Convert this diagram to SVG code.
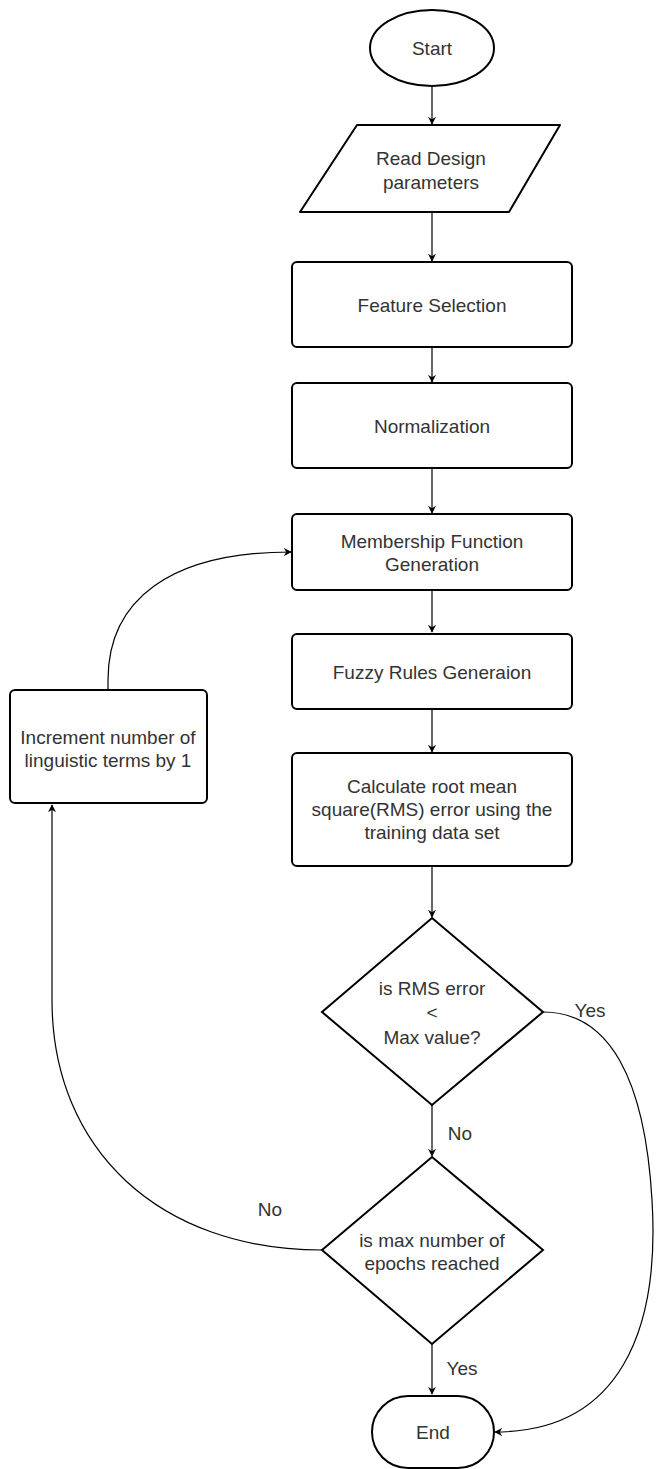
<svg xmlns="http://www.w3.org/2000/svg" width="656" height="1469" viewBox="0 0 656 1469">
<style>
.s{fill:#fff;stroke:#000;stroke-width:2}
.t{font-family:"Liberation Sans",Arial,sans-serif;font-size:19px;fill:#333;text-anchor:middle;dominant-baseline:central}
.c{fill:none;stroke:#000;stroke-width:1.2}
</style>
<defs>
<marker id="a" viewBox="0 0 10 10" refX="9" refY="5" markerWidth="8" markerHeight="8" markerUnits="userSpaceOnUse" orient="auto">
<path d="M0,0 L10,5 L0,10 L3,5 Z" fill="#000"/>
</marker>
</defs>
<g id="connectors">
<path class="c" d="M432,87 V124" marker-end="url(#a)"/>
<path class="c" d="M432,212 V261" marker-end="url(#a)"/>
<path class="c" d="M432,347 V382" marker-end="url(#a)"/>
<path class="c" d="M432,468 V513" marker-end="url(#a)"/>
<path class="c" d="M432,590 V632" marker-end="url(#a)"/>
<path class="c" d="M432,709 V752" marker-end="url(#a)"/>
<path class="c" d="M432,866 V917" marker-end="url(#a)"/>
<path class="c" d="M432,1105 V1156" marker-end="url(#a)"/>
<path class="c" d="M432,1344 V1394" marker-end="url(#a)"/>
<path class="c" d="M108,690 V680 C108,600 170,552 291,552" marker-end="url(#a)"/>
<path class="c" d="M322,1250 C160,1250 52,1150 52,1000 V805" marker-end="url(#a)"/>
<path class="c" d="M543,1012 C610,1012 645,1080 652,1200 C660,1330 620,1432 495,1432" marker-end="url(#a)"/>
<text class="t" x="590" y="1010">Yes</text>
<text class="t" x="460" y="1133">No</text>
<text class="t" x="270" y="1209">No</text>
<text class="t" x="462" y="1368">Yes</text>
</g>
<g id="start">
<ellipse class="s" cx="432" cy="48" rx="62" ry="38"/>
<text class="t" x="432" y="48">Start</text>
</g>
<g id="read">
<path class="s" d="M357,125 H560 L509,212 H300 Z" stroke-linejoin="round"/>
<text class="t" x="431" y="158">Read Design</text>
<text class="t" x="431" y="182">parameters</text>
</g>
<g id="feature">
<rect class="s" x="292" y="262" width="280" height="85" rx="5"/>
<text class="t" x="432" y="305">Feature Selection</text>
</g>
<g id="norm">
<rect class="s" x="292" y="383" width="280" height="85" rx="5"/>
<text class="t" x="432" y="426">Normalization</text>
</g>
<g id="membership">
<rect class="s" x="292" y="514" width="280" height="76" rx="5"/>
<text class="t" x="432" y="541">Membership Function</text>
<text class="t" x="432" y="564">Generation</text>
</g>
<g id="fuzzy">
<rect class="s" x="292" y="634" width="280" height="75" rx="5"/>
<text class="t" x="432" y="672">Fuzzy Rules Generaion</text>
</g>
<g id="calc">
<rect class="s" x="292" y="753" width="280" height="113" rx="5"/>
<text class="t" x="432" y="786">Calculate root mean</text>
<text class="t" x="432" y="809">square(RMS) error using the</text>
<text class="t" x="432" y="832">training data set</text>
</g>
<g id="increment">
<rect class="s" x="10" y="690" width="197" height="113" rx="5"/>
<text class="t" x="108" y="737">Increment number of</text>
<text class="t" x="108" y="760">linguistic terms by 1</text>
</g>
<g id="d1">
<path class="s" d="M432,918 L543,1012 L432,1105 L322,1012 Z"/>
<text class="t" x="432" y="988">is RMS error</text>
<text class="t" x="432" y="1012">&lt;</text>
<text class="t" x="432" y="1037">Max value?</text>
</g>
<g id="d2">
<path class="s" d="M432,1157 L543,1250 L432,1344 L322,1250 Z"/>
<text class="t" x="432" y="1240">is max number of</text>
<text class="t" x="432" y="1263">epochs reached</text>
</g>
<g id="end">
<rect class="s" x="372" y="1396" width="122" height="72" rx="36"/>
<text class="t" x="433" y="1432">End</text>
</g>
</svg>
